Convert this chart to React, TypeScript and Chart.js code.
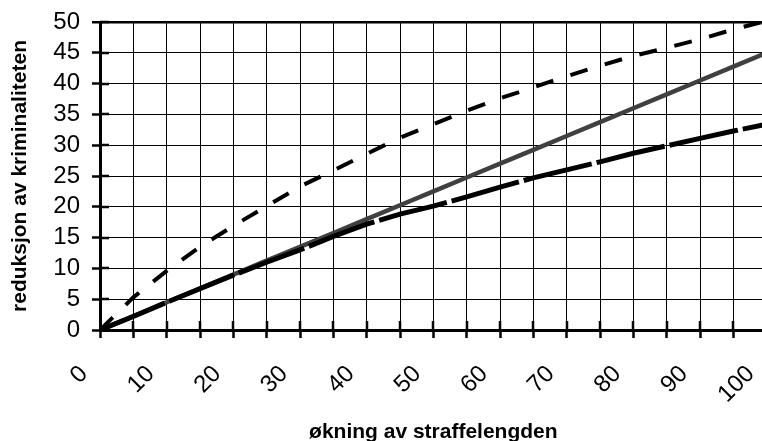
import { useEffect, useRef } from 'react';
import { Chart, registerables } from 'chart.js';

Chart.register(...registerables);

// økning av straffelengden (x) sampled every 5
const xValues = [0, 5, 10, 15, 20, 25, 30, 35, 40, 45, 50, 55, 60, 65, 70, 75, 80, 85, 90, 95, 100];
// upper thin dashed curve
const upperDashed = [0, 5.3, 9.6, 13.5, 16.9, 20.1, 23.3, 25.9, 28.6, 31.2, 33.4, 35.6, 37.6, 39.4, 41.2, 42.9, 44.5, 45.8, 47.2, 48.8, 50.2];
// straight grey line
const grayLine = [0, 2.25, 4.5, 6.75, 9, 11.25, 13.5, 15.75, 18, 20.25, 22.5, 24.75, 27, 29.25, 31.5, 33.75, 36, 38.25, 40.5, 42.75, 45];
// lower thick long-dashed curve
const lowerDashed = [0, 2.2, 4.5, 6.7, 8.9, 11.0, 13.0, 15.2, 17.2, 18.8, 20.1, 21.6, 23.2, 24.7, 26.0, 27.3, 28.7, 29.9, 31.1, 32.3, 33.4];

const xTickLabels = ['0', '10', '20', '30', '40', '50', '60', '70', '80', '90', '100'];
const yTickLabels = ['0', '5', '10', '15', '20', '25', '30', '35', '40', '45', '50'];

const xTitle = 'økning av straffelengden';
const yTitle = 'reduksjon av kriminaliteten';

const FONT = '"Liberation Sans", Arial, sans-serif';

const innerTicks = {
  id: 'innerTicks',
  afterDraw(chart: any) {
    const { ctx, chartArea, scales } = chart;
    ctx.save();
    ctx.strokeStyle = '#000';
    ctx.lineWidth = 2.5;
    ctx.beginPath();
    scales.y.ticks.forEach((t: any) => {
      if (t.value === 0) return;
      const py = Math.round(scales.y.getPixelForValue(t.value));
      ctx.moveTo(chartArea.left, py);
      ctx.lineTo(chartArea.left + 9, py);
    });
    scales.x.ticks.forEach((t: any) => {
      if (t.value === 0) return;
      const px = Math.round(scales.x.getPixelForValue(t.value));
      ctx.moveTo(px, chartArea.bottom);
      ctx.lineTo(px, chartArea.bottom - 9);
    });
    ctx.stroke();
    ctx.restore();
  },
};

export default function App() {
  const ref = useRef<HTMLCanvasElement | null>(null);

  useEffect(() => {
    document.body.style.margin = '0';
    if (!ref.current) return;
    const toPts = (arr: number[]) => xValues.map((x, i) => ({ x, y: arr[i] }));
    const chart = new Chart(ref.current, {
      type: 'line',
      data: {
        datasets: [
          {
            label: 'lower',
            data: toPts(lowerDashed),
            borderColor: '#000',
            borderWidth: 5,
            borderDash: [70, 5],
            pointRadius: 0,
            tension: 0,
          },
          {
            label: 'gray',
            data: toPts(grayLine),
            borderColor: '#404040',
            borderWidth: 4.5,
            pointRadius: 0,
            tension: 0,
          },
          {
            label: 'upper',
            data: toPts(upperDashed),
            borderColor: '#000',
            borderWidth: 4,
            borderDash: [18, 18],
            pointRadius: 0,
            tension: 0,
          },
        ],
      },
      options: {
        responsive: false,
        animation: false,
        devicePixelRatio: 1,
        layout: { padding: { top: 22, right: 3.33, bottom: 0, left: 0 } },
        plugins: { legend: { display: false }, tooltip: { enabled: false } },
        scales: {
          x: {
            type: 'linear',
            min: 0,
            max: 100,
            afterFit: (s: any) => {
              s.height = 111;
              s.paddingLeft = 0;
              s.paddingRight = 0;
            },
            ticks: {
              stepSize: 5,
              includeBounds: false,
              autoSkip: false,
              minRotation: 45,
              maxRotation: 45,
              padding: 22,
              labelOffset: -16,
              color: '#000',
              font: { family: FONT, size: 24 },
              callback: (v: any) => (xTickLabels.includes(String(v)) ? String(v) : ''),
            },
            grid: {
              color: '#000',
              lineWidth: 1,
              tickLength: 8,
              tickColor: '#000',
              tickWidth: 2.5,
            },
            border: { display: true, color: '#000', width: 3 },
            title: {
              display: true,
              text: xTitle,
              color: '#000',
              padding: { top: 0, bottom: -2 },
              font: { family: FONT, size: 21, weight: 'bold', lineHeight: 1 },
            },
          },
          y: {
            type: 'linear',
            min: 0,
            max: 50,
            afterFit: (s: any) => {
              s.width = 100;
              s.paddingTop = 0;
              s.paddingBottom = 0;
            },
            ticks: {
              stepSize: 5,
              autoSkip: false,
              padding: 12,
              color: '#000',
              font: { family: FONT, size: 24 },
              callback: (v: any) => (yTickLabels.includes(String(v)) ? String(v) : ''),
            },
            grid: {
              color: '#000',
              lineWidth: (c: any) => (c.tick && c.tick.value === 50 ? 2.5 : 1),
              tickLength: 8,
              tickColor: '#000',
              tickWidth: 2.5,
            },
            border: { display: true, color: '#000', width: 3 },
            title: {
              display: true,
              text: yTitle,
              color: '#000',
              padding: { top: 10, bottom: 0 },
              font: { family: FONT, size: 21, weight: 'bold', lineHeight: 1 },
            },
          },
        },
      },
      plugins: [innerTicks],
    });
    return () => chart.destroy();
  }, []);

  return (
    <div style={{ position: 'fixed', left: 0, top: 0, width: 762, height: 441, overflow: 'hidden', background: '#fff' }}>
      <canvas ref={ref} width={770} height={441} style={{ width: 770, height: 441, display: 'block' }} />
    </div>
  );
}
